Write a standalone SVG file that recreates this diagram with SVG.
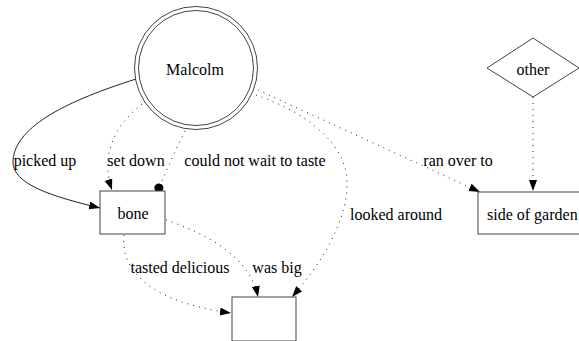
<svg xmlns="http://www.w3.org/2000/svg" width="579" height="341" viewBox="0 0 579 341" font-family="Liberation Serif" font-size="16">
<style>
.n{fill:#fff;stroke:#444;stroke-width:1}
.e{fill:none;stroke:#222;stroke-width:1}
.d{stroke-dasharray:1,5}
</style>
<defs>
<marker id="arr" markerUnits="userSpaceOnUse" markerWidth="12" markerHeight="10" refX="11" refY="4" orient="auto"><path d="M0,0 L11,4 L0,8 z" fill="#000" stroke="none"/></marker>
<marker id="dot" markerUnits="userSpaceOnUse" markerWidth="10" markerHeight="10" refX="9" refY="4.5" orient="auto"><circle cx="4.5" cy="4.5" r="4.5" fill="#000" stroke="none"/></marker>
</defs>
<rect width="579" height="341" fill="#fff"/>
<g id="connectors">
<path class="e" d="M136,79 C70,100 16,125 13,160 C11,185 55,197 100,208" marker-end="url(#arr)"/>
<path class="e d" d="M142,104 C115,125 100,155 112,190" marker-end="url(#arr)"/>
<path class="e d" d="M185,131 C175,150 168,168 157,192" marker-end="url(#dot)"/>
<path class="e d" d="M256,95 C300,110 345,140 347,180 C349,220 320,265 292,297" marker-end="url(#arr)"/>
<path class="e d" d="M258,90 L480,192" marker-end="url(#arr)"/>
<path class="e d" d="M533,97 L533,191" marker-end="url(#arr)"/>
<path class="e d" d="M124,235 C120,270 150,302 231,313" marker-end="url(#arr)"/>
<path class="e d" d="M166,220 C210,235 250,258 258,297" marker-end="url(#arr)"/>
</g>
<g id="labels" font-family="Liberation Serif" font-size="16" text-anchor="middle">
<text x="45" y="166">picked up</text>
<text x="136" y="166">set down</text>
<text x="255" y="166">could not wait to taste</text>
<text x="458" y="166">ran over to</text>
<text x="396" y="220">looked around</text>
<text x="180" y="273">tasted delicious</text>
<text x="277" y="273">was big</text>
</g>
<g id="Malcolm">
<circle class="n" cx="196" cy="68" r="61.5"/>
<circle class="n" cx="196" cy="68" r="57.5" fill="none"/>
<text x="195" y="75" font-family="Liberation Serif" font-size="16" text-anchor="middle">Malcolm</text>
</g>
<g id="other">
<polygon class="n" points="533,38 579,68 533,97 487,68"/>
<text x="533" y="75" font-family="Liberation Serif" font-size="16" text-anchor="middle">other</text>
</g>
<g id="bone">
<rect class="n" x="100" y="191" width="65" height="43"/>
<text x="133" y="219" font-family="Liberation Serif" font-size="16" text-anchor="middle">bone</text>
</g>
<g id="side_of_garden">
<rect class="n" x="478" y="192" width="115" height="42"/>
<text x="487" y="220" font-family="Liberation Serif" font-size="16">side of garden</text>
</g>
<g id="unnamed">
<rect class="n" x="232" y="297" width="64" height="44"/>
</g>
</svg>
